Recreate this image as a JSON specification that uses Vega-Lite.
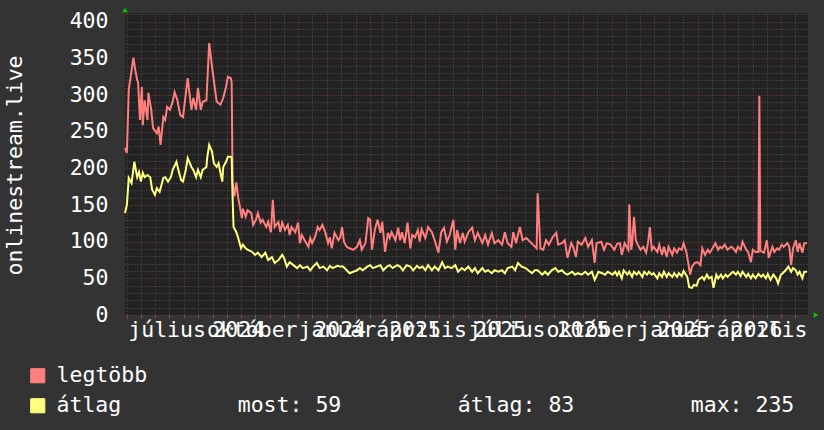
{
  "$schema": "https://vega.github.io/schema/vega-lite/v6.json",
  "width": 683,
  "height": 302,
  "autosize": {"type": "none"},
  "padding": {"left": 125, "top": 13, "right": 16, "bottom": 115},
  "background": "#333333",
  "config": {
    "view": {"fill": "#222222", "stroke": null},
    "font": "DejaVu Sans Mono",
    "axis": {"labelFont": "DejaVu Sans Mono", "titleFont": "DejaVu Sans Mono"}
  },
  "datasets": {
    "legtobb": [
      {"nap":0,"ertek":228},{"nap":2,"ertek":221},{"nap":4,"ertek":307},{"nap":9,"ertek":351},{"nap":11,"ertek":334},{"nap":13,"ertek":321},{"nap":14,"ertek":317},{"nap":16,"ertek":266},{"nap":18,"ertek":311},{"nap":19,"ertek":259},{"nap":21,"ertek":293},{"nap":24,"ertek":266},{"nap":25,"ertek":303},{"nap":28,"ertek":280},{"nap":30,"ertek":255},{"nap":34,"ertek":248},{"nap":36,"ertek":257},{"nap":38,"ertek":232},{"nap":41,"ertek":270},{"nap":43,"ertek":266},{"nap":45,"ertek":284},{"nap":48,"ertek":280},{"nap":51,"ertek":291},{"nap":53,"ertek":304},{"nap":56,"ertek":293},{"nap":59,"ertek":273},{"nap":62,"ertek":270},{"nap":64,"ertek":291},{"nap":67,"ertek":323},{"nap":71,"ertek":280},{"nap":73,"ertek":296},{"nap":76,"ertek":280},{"nap":78,"ertek":310},{"nap":81,"ertek":280},{"nap":83,"ertek":291},{"nap":87,"ertek":293},{"nap":89,"ertek":345},{"nap":90,"ertek":371},{"nap":93,"ertek":339},{"nap":96,"ertek":310},{"nap":98,"ertek":291},{"nap":102,"ertek":287},{"nap":105,"ertek":296},{"nap":108,"ertek":311},{"nap":110,"ertek":325},{"nap":113,"ertek":323},{"nap":114,"ertek":318},{"nap":115,"ertek":181},{"nap":117,"ertek":162},{"nap":119,"ertek":181},{"nap":121,"ertek":160},{"nap":125,"ertek":132},{"nap":126,"ertek":145},{"nap":129,"ertek":134},{"nap":131,"ertek":143},{"nap":135,"ertek":139},{"nap":137,"ertek":123},{"nap":140,"ertek":130},{"nap":142,"ertek":139},{"nap":145,"ertek":126},{"nap":147,"ertek":130},{"nap":151,"ertek":120},{"nap":153,"ertek":127},{"nap":156,"ertek":113},{"nap":158,"ertek":157},{"nap":160,"ertek":120},{"nap":164,"ertek":127},{"nap":166,"ertek":113},{"nap":168,"ertek":126},{"nap":171,"ertek":116},{"nap":174,"ertek":123},{"nap":176,"ertek":109},{"nap":178,"ertek":120},{"nap":182,"ertek":113},{"nap":185,"ertek":126},{"nap":187,"ertek":98},{"nap":189,"ertek":109},{"nap":192,"ertek":102},{"nap":196,"ertek":93},{"nap":198,"ertek":105},{"nap":200,"ertek":98},{"nap":203,"ertek":106},{"nap":206,"ertek":120},{"nap":208,"ertek":116},{"nap":211,"ertek":123},{"nap":214,"ertek":113},{"nap":217,"ertek":98},{"nap":219,"ertek":106},{"nap":221,"ertek":91},{"nap":224,"ertek":112},{"nap":228,"ertek":102},{"nap":230,"ertek":106},{"nap":232,"ertek":120},{"nap":234,"ertek":100},{"nap":237,"ertek":93},{"nap":240,"ertek":91},{"nap":244,"ertek":89},{"nap":248,"ertek":93},{"nap":251,"ertek":102},{"nap":253,"ertek":89},{"nap":257,"ertek":98},{"nap":260,"ertek":132},{"nap":262,"ertek":130},{"nap":264,"ertek":89},{"nap":267,"ertek":116},{"nap":270,"ertek":130},{"nap":273,"ertek":112},{"nap":275,"ertek":127},{"nap":278,"ertek":86},{"nap":281,"ertek":112},{"nap":283,"ertek":105},{"nap":285,"ertek":113},{"nap":289,"ertek":102},{"nap":292,"ertek":119},{"nap":294,"ertek":102},{"nap":296,"ertek":113},{"nap":299,"ertek":98},{"nap":302,"ertek":126},{"nap":305,"ertek":91},{"nap":307,"ertek":109},{"nap":310,"ertek":106},{"nap":313,"ertek":116},{"nap":315,"ertek":100},{"nap":317,"ertek":117},{"nap":321,"ertek":105},{"nap":324,"ertek":120},{"nap":328,"ertek":113},{"nap":331,"ertek":102},{"nap":335,"ertek":85},{"nap":338,"ertek":113},{"nap":341,"ertek":119},{"nap":344,"ertek":100},{"nap":347,"ertek":109},{"nap":351,"ertek":130},{"nap":353,"ertek":89},{"nap":355,"ertek":116},{"nap":358,"ertek":98},{"nap":361,"ertek":112},{"nap":363,"ertek":100},{"nap":367,"ertek":113},{"nap":371,"ertek":119},{"nap":374,"ertek":102},{"nap":377,"ertek":112},{"nap":382,"ertek":98},{"nap":385,"ertek":109},{"nap":388,"ertek":96},{"nap":392,"ertek":112},{"nap":395,"ertek":98},{"nap":399,"ertek":102},{"nap":403,"ertek":96},{"nap":406,"ertek":113},{"nap":409,"ertek":98},{"nap":413,"ertek":93},{"nap":415,"ertek":113},{"nap":418,"ertek":98},{"nap":420,"ertek":109},{"nap":422,"ertek":120},{"nap":425,"ertek":102},{"nap":429,"ertek":105},{"nap":433,"ertek":100},{"nap":436,"ertek":96},{"nap":440,"ertek":91},{"nap":441,"ertek":166},{"nap":444,"ertek":91},{"nap":447,"ertek":89},{"nap":450,"ertek":102},{"nap":453,"ertek":96},{"nap":457,"ertek":106},{"nap":461,"ertek":112},{"nap":463,"ertek":96},{"nap":467,"ertek":98},{"nap":470,"ertek":102},{"nap":473,"ertek":78},{"nap":477,"ertek":98},{"nap":479,"ertek":93},{"nap":482,"ertek":79},{"nap":484,"ertek":100},{"nap":488,"ertek":96},{"nap":492,"ertek":105},{"nap":495,"ertek":93},{"nap":499,"ertek":102},{"nap":502,"ertek":71},{"nap":504,"ertek":98},{"nap":509,"ertek":100},{"nap":512,"ertek":89},{"nap":515,"ertek":98},{"nap":519,"ertek":96},{"nap":523,"ertek":89},{"nap":526,"ertek":97},{"nap":529,"ertek":98},{"nap":531,"ertek":82},{"nap":534,"ertek":98},{"nap":538,"ertek":89},{"nap":539,"ertek":151},{"nap":541,"ertek":89},{"nap":542,"ertek":96},{"nap":544,"ertek":134},{"nap":546,"ertek":102},{"nap":548,"ertek":96},{"nap":551,"ertek":89},{"nap":554,"ertek":93},{"nap":557,"ertek":85},{"nap":559,"ertek":98},{"nap":561,"ertek":120},{"nap":563,"ertek":89},{"nap":565,"ertek":93},{"nap":569,"ertek":86},{"nap":571,"ertek":96},{"nap":574,"ertek":82},{"nap":576,"ertek":93},{"nap":579,"ertek":79},{"nap":581,"ertek":93},{"nap":585,"ertek":82},{"nap":587,"ertek":91},{"nap":590,"ertek":85},{"nap":592,"ertek":91},{"nap":595,"ertek":89},{"nap":597,"ertek":98},{"nap":600,"ertek":86},{"nap":602,"ertek":71},{"nap":604,"ertek":55},{"nap":606,"ertek":66},{"nap":609,"ertek":71},{"nap":612,"ertek":72},{"nap":615,"ertek":68},{"nap":617,"ertek":91},{"nap":620,"ertek":82},{"nap":623,"ertek":89},{"nap":625,"ertek":85},{"nap":627,"ertek":89},{"nap":631,"ertek":98},{"nap":634,"ertek":89},{"nap":636,"ertek":93},{"nap":638,"ertek":91},{"nap":641,"ertek":96},{"nap":644,"ertek":89},{"nap":648,"ertek":93},{"nap":650,"ertek":91},{"nap":653,"ertek":86},{"nap":655,"ertek":93},{"nap":658,"ertek":89},{"nap":660,"ertek":100},{"nap":664,"ertek":89},{"nap":666,"ertek":86},{"nap":669,"ertek":72},{"nap":671,"ertek":89},{"nap":674,"ertek":86},{"nap":677,"ertek":86},{"nap":678,"ertek":299},{"nap":679,"ertek":88},{"nap":681,"ertek":86},{"nap":683,"ertek":85},{"nap":686,"ertek":102},{"nap":688,"ertek":78},{"nap":692,"ertek":93},{"nap":694,"ertek":86},{"nap":697,"ertek":91},{"nap":699,"ertek":89},{"nap":702,"ertek":96},{"nap":704,"ertek":93},{"nap":708,"ertek":98},{"nap":710,"ertek":93},{"nap":712,"ertek":68},{"nap":714,"ertek":91},{"nap":717,"ertek":102},{"nap":719,"ertek":86},{"nap":721,"ertek":98},{"nap":724,"ertek":85},{"nap":726,"ertek":98},{"nap":729,"ertek":98}
    ],
    "atlag": [
      {"nap":0,"ertek":139},{"nap":2,"ertek":150},{"nap":4,"ertek":187},{"nap":7,"ertek":180},{"nap":10,"ertek":209},{"nap":13,"ertek":188},{"nap":15,"ertek":195},{"nap":17,"ertek":182},{"nap":19,"ertek":194},{"nap":21,"ertek":188},{"nap":24,"ertek":191},{"nap":27,"ertek":188},{"nap":29,"ertek":171},{"nap":32,"ertek":164},{"nap":34,"ertek":173},{"nap":37,"ertek":168},{"nap":41,"ertek":187},{"nap":43,"ertek":188},{"nap":46,"ertek":182},{"nap":49,"ertek":188},{"nap":51,"ertek":198},{"nap":55,"ertek":209},{"nap":57,"ertek":198},{"nap":60,"ertek":184},{"nap":62,"ertek":182},{"nap":65,"ertek":198},{"nap":67,"ertek":214},{"nap":71,"ertek":202},{"nap":73,"ertek":198},{"nap":76,"ertek":188},{"nap":78,"ertek":198},{"nap":81,"ertek":188},{"nap":83,"ertek":198},{"nap":87,"ertek":202},{"nap":88,"ertek":216},{"nap":90,"ertek":232},{"nap":93,"ertek":223},{"nap":95,"ertek":207},{"nap":98,"ertek":202},{"nap":100,"ertek":207},{"nap":103,"ertek":188},{"nap":104,"ertek":182},{"nap":105,"ertek":202},{"nap":108,"ertek":209},{"nap":110,"ertek":216},{"nap":113,"ertek":216},{"nap":114,"ertek":214},{"nap":115,"ertek":160},{"nap":116,"ertek":120},{"nap":119,"ertek":113},{"nap":121,"ertek":105},{"nap":124,"ertek":91},{"nap":126,"ertek":96},{"nap":129,"ertek":91},{"nap":131,"ertek":89},{"nap":136,"ertek":86},{"nap":139,"ertek":82},{"nap":142,"ertek":85},{"nap":146,"ertek":79},{"nap":150,"ertek":85},{"nap":153,"ertek":75},{"nap":157,"ertek":79},{"nap":160,"ertek":71},{"nap":164,"ertek":75},{"nap":168,"ertek":82},{"nap":170,"ertek":78},{"nap":173,"ertek":66},{"nap":176,"ertek":72},{"nap":180,"ertek":68},{"nap":184,"ertek":64},{"nap":187,"ertek":68},{"nap":190,"ertek":64},{"nap":195,"ertek":66},{"nap":198,"ertek":61},{"nap":201,"ertek":66},{"nap":205,"ertek":71},{"nap":208,"ertek":64},{"nap":212,"ertek":66},{"nap":216,"ertek":61},{"nap":219,"ertek":67},{"nap":222,"ertek":64},{"nap":227,"ertek":67},{"nap":230,"ertek":66},{"nap":233,"ertek":66},{"nap":237,"ertek":61},{"nap":240,"ertek":57},{"nap":244,"ertek":59},{"nap":248,"ertek":61},{"nap":251,"ertek":64},{"nap":254,"ertek":61},{"nap":259,"ertek":66},{"nap":262,"ertek":68},{"nap":265,"ertek":64},{"nap":269,"ertek":66},{"nap":273,"ertek":68},{"nap":276,"ertek":61},{"nap":280,"ertek":66},{"nap":283,"ertek":68},{"nap":286,"ertek":64},{"nap":291,"ertek":68},{"nap":294,"ertek":66},{"nap":297,"ertek":61},{"nap":301,"ertek":68},{"nap":305,"ertek":66},{"nap":308,"ertek":61},{"nap":312,"ertek":67},{"nap":315,"ertek":64},{"nap":318,"ertek":66},{"nap":321,"ertek":61},{"nap":324,"ertek":68},{"nap":328,"ertek":61},{"nap":331,"ertek":66},{"nap":335,"ertek":61},{"nap":339,"ertek":72},{"nap":342,"ertek":64},{"nap":345,"ertek":66},{"nap":349,"ertek":64},{"nap":353,"ertek":68},{"nap":356,"ertek":59},{"nap":360,"ertek":64},{"nap":363,"ertek":61},{"nap":367,"ertek":66},{"nap":371,"ertek":59},{"nap":374,"ertek":64},{"nap":377,"ertek":57},{"nap":382,"ertek":64},{"nap":385,"ertek":59},{"nap":388,"ertek":61},{"nap":392,"ertek":57},{"nap":395,"ertek":61},{"nap":399,"ertek":59},{"nap":403,"ertek":61},{"nap":406,"ertek":57},{"nap":409,"ertek":64},{"nap":414,"ertek":66},{"nap":417,"ertek":61},{"nap":420,"ertek":71},{"nap":424,"ertek":66},{"nap":428,"ertek":64},{"nap":431,"ertek":61},{"nap":435,"ertek":57},{"nap":438,"ertek":61},{"nap":441,"ertek":61},{"nap":446,"ertek":55},{"nap":449,"ertek":59},{"nap":452,"ertek":55},{"nap":456,"ertek":61},{"nap":460,"ertek":64},{"nap":463,"ertek":59},{"nap":467,"ertek":61},{"nap":470,"ertek":57},{"nap":473,"ertek":55},{"nap":478,"ertek":59},{"nap":481,"ertek":55},{"nap":484,"ertek":57},{"nap":488,"ertek":55},{"nap":492,"ertek":59},{"nap":495,"ertek":55},{"nap":499,"ertek":59},{"nap":502,"ertek":48},{"nap":506,"ertek":59},{"nap":510,"ertek":57},{"nap":513,"ertek":55},{"nap":516,"ertek":59},{"nap":521,"ertek":55},{"nap":524,"ertek":59},{"nap":526,"ertek":54},{"nap":528,"ertek":59},{"nap":531,"ertek":50},{"nap":533,"ertek":61},{"nap":537,"ertek":55},{"nap":539,"ertek":59},{"nap":542,"ertek":52},{"nap":544,"ertek":59},{"nap":547,"ertek":55},{"nap":549,"ertek":59},{"nap":553,"ertek":52},{"nap":555,"ertek":59},{"nap":558,"ertek":55},{"nap":560,"ertek":59},{"nap":563,"ertek":55},{"nap":565,"ertek":57},{"nap":569,"ertek":50},{"nap":571,"ertek":57},{"nap":574,"ertek":52},{"nap":576,"ertek":59},{"nap":579,"ertek":52},{"nap":581,"ertek":57},{"nap":585,"ertek":52},{"nap":587,"ertek":57},{"nap":590,"ertek":52},{"nap":592,"ertek":57},{"nap":595,"ertek":53},{"nap":597,"ertek":60},{"nap":601,"ertek":52},{"nap":603,"ertek":38},{"nap":606,"ertek":37},{"nap":608,"ertek":41},{"nap":611,"ertek":40},{"nap":613,"ertek":48},{"nap":617,"ertek":52},{"nap":619,"ertek":48},{"nap":622,"ertek":55},{"nap":624,"ertek":50},{"nap":627,"ertek":52},{"nap":629,"ertek":37},{"nap":632,"ertek":55},{"nap":634,"ertek":50},{"nap":637,"ertek":55},{"nap":639,"ertek":50},{"nap":642,"ertek":55},{"nap":644,"ertek":52},{"nap":648,"ertek":57},{"nap":650,"ertek":59},{"nap":653,"ertek":55},{"nap":655,"ertek":59},{"nap":658,"ertek":53},{"nap":660,"ertek":59},{"nap":664,"ertek":52},{"nap":666,"ertek":56},{"nap":669,"ertek":50},{"nap":671,"ertek":55},{"nap":674,"ertek":50},{"nap":677,"ertek":56},{"nap":680,"ertek":52},{"nap":682,"ertek":55},{"nap":685,"ertek":50},{"nap":687,"ertek":56},{"nap":690,"ertek":48},{"nap":693,"ertek":55},{"nap":696,"ertek":50},{"nap":698,"ertek":43},{"nap":701,"ertek":55},{"nap":703,"ertek":57},{"nap":706,"ertek":61},{"nap":709,"ertek":66},{"nap":712,"ertek":59},{"nap":714,"ertek":64},{"nap":717,"ertek":61},{"nap":719,"ertek":55},{"nap":721,"ertek":59},{"nap":724,"ertek":50},{"nap":726,"ertek":59},{"nap":729,"ertek":59}
    ],
    "honapok": [
      {"nap":45,"felirat":"július"},{"nap":136,"felirat":"október"},{"nap":227,"felirat":"január"},{"nap":317,"felirat":"április"},{"nap":408,"felirat":"július"},{"nap":499,"felirat":"október"},{"nap":589,"felirat":"január"},{"nap":681,"felirat":"április"}
    ],
    "evek": [
      {"nap":121,"felirat":"2024"},{"nap":230,"felirat":"2024"},{"nap":310,"felirat":"2025"},{"nap":401,"felirat":"2025"},{"nap":490,"felirat":"2025"},{"nap":597,"felirat":"2025"},{"nap":675,"felirat":"2026"}
    ]
  },
  "resolve": {"axis": {"x": "independent", "y": "independent"}},
  "layer": [
    {
      "data": {"name": "legtobb"},
      "mark": {"type": "line", "strokeWidth": 2, "interpolate": "linear"},
      "encoding": {
        "x": {"field": "nap", "type": "quantitative",
          "scale": {"domain": [0, 730], "nice": false, "zero": false},
          "axis": {"orient": "bottom", "values": [17,47,78,109,139,170,200,231,262,290,321,351,382,412,443,474,504,535,565,596,627,655,686,716],
            "grid": true, "gridColor": "#555555", "gridDash": [1, 2], "gridWidth": 1,
            "labels": false, "ticks": true, "tickColor": "#666666", "tickSize": 3, "domain": false, "title": null, "minExtent": 0, "maxExtent": 0}},
        "y": {"field": "ertek", "type": "quantitative",
          "scale": {"domain": [0, 412], "nice": false},
          "axis": {"orient": "left", "values": [10,20,30,40,60,70,80,90,110,120,130,140,160,170,180,190,210,220,230,240,260,270,280,290,310,320,330,340,360,370,380,390,410],
            "grid": true, "gridColor": "#555555", "gridDash": [1, 2], "gridWidth": 1,
            "labels": false, "ticks": false, "domain": false, "title": null, "minExtent": 0, "maxExtent": 0}},
        "color": {"datum": "legtöbb", "type": "nominal",
          "scale": {"domain": ["legtöbb", "átlag"], "range": ["#ff7f7f", "#ffff7f"]},
          "legend": {
            "orient": "none", "legendX": -98, "legendY": 352, "title": null,
            "symbolType": "square", "symbolSize": 200, "symbolStrokeColor": "#000000", "symbolStrokeWidth": 1,
            "labelFont": "DejaVu Sans Mono", "labelFontSize": 21.5, "labelColor": "#ffffff",
            "labelOffset": 8, "rowPadding": 7, "labelLimit": 1000,
            "labelExpr": "datum.label == 'átlag' ? 'átlag\u00a0\u00a0\u00a0\u00a0\u00a0\u00a0\u00a0\u00a0\u00a0most: 59\u00a0\u00a0\u00a0\u00a0\u00a0\u00a0\u00a0\u00a0\u00a0átlag: 83\u00a0\u00a0\u00a0\u00a0\u00a0\u00a0\u00a0\u00a0\u00a0max: 235' : datum.label",
            "encode": {"symbols": {"update": {"fill": {"scale": "color", "field": "value"}, "fillOpacity": {"value": 1}}}}
          }}
      }
    },
    {
      "data": {"name": "atlag"},
      "mark": {"type": "line", "strokeWidth": 2, "interpolate": "linear"},
      "encoding": {
        "x": {"field": "nap", "type": "quantitative",
          "axis": {"orient": "bottom", "values": [2,32,63,94,124,155,185,216,247,275,306,336,367,397,428,459,489,520,550,581,612,640,671,701],
            "grid": true, "gridColor": "#7d3a3a", "gridDash": [1, 2], "gridWidth": 1,
            "labels": false, "ticks": true, "tickColor": "#a04545", "tickSize": 3, "domain": false, "title": null, "minExtent": 0, "maxExtent": 0}},
        "y": {"field": "ertek", "type": "quantitative",
          "axis": {"orient": "left", "values": [0,50,100,150,200,250,300,350,400],
            "grid": true, "gridColor": "#7d3a3a", "gridDash": [1, 2], "gridWidth": 1,
            "labels": true, "labelColor": "#ffffff", "labelFontSize": 21.5, "labelPadding": 17,
            "labelBaseline": "middle",
            "ticks": false, "domain": false,
            "title": "onlinestream.live", "titleColor": "#ffffff", "titleFontSize": 21.5, "titleFontWeight": "normal",
            "titleAngle": -90, "titleX": -110, "titleY": 152, "titleAlign": "center", "titleBaseline": "middle"}},
        "color": {"datum": "átlag", "type": "nominal"}
      }
    },
    {
      "data": {"name": "honapok"},
      "mark": {"type": "text", "font": "DejaVu Sans Mono", "fontSize": 21.5, "fill": "#ffffff", "baseline": "middle", "align": "center", "dy": 16},
      "encoding": {
        "x": {"field": "nap", "type": "quantitative", "axis": null},
        "y": {"datum": 0, "type": "quantitative", "axis": null},
        "text": {"field": "felirat"}
      }
    },
    {
      "data": {"name": "evek"},
      "mark": {"type": "text", "font": "DejaVu Sans Mono", "fontSize": 21.5, "fill": "#ffffff", "baseline": "middle", "align": "center", "dy": 16},
      "encoding": {
        "x": {"field": "nap", "type": "quantitative", "axis": null},
        "y": {"datum": 0, "type": "quantitative", "axis": null},
        "text": {"field": "felirat"}
      }
    },
    {
      "data": {"values": [{}]},
      "mark": {"type": "point", "shape": "triangle-up", "filled": true, "size": 30, "color": "#00cc00", "opacity": 1, "yOffset": -3},
      "encoding": {
        "x": {"datum": 0, "type": "quantitative", "axis": null},
        "y": {"datum": 412, "type": "quantitative", "axis": null}
      }
    },
    {
      "data": {"values": [{}]},
      "mark": {"type": "point", "shape": "triangle-right", "filled": true, "size": 30, "color": "#00cc00", "opacity": 1, "xOffset": 8},
      "encoding": {
        "x": {"datum": 730, "type": "quantitative", "axis": null},
        "y": {"datum": 0, "type": "quantitative", "axis": null}
      }
    }
  ]
}
